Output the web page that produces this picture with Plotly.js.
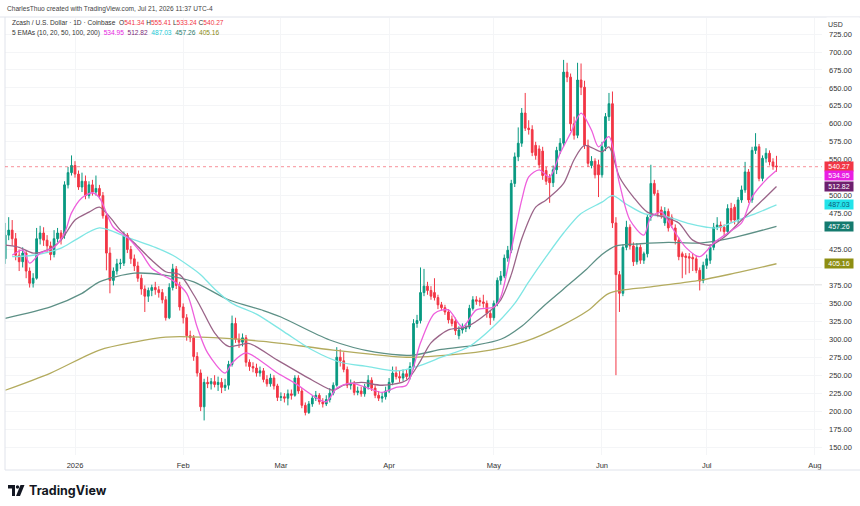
<!DOCTYPE html>
<html><head><meta charset="utf-8">
<script src="https://cdn.plot.ly/plotly-3.0.1.min.js"></script>
<style>html,body{margin:0;padding:0;background:#fff;}#chart{width:860px;height:506px;}</style>
</head><body><div id="chart"></div>
<script>
// ---------------- DATA ----------------
const firstDay = '2025-12-12';
const opens = [412,445,452,440,417,408,420,395,378,385,440,448,438,430,418,440,448,445,515,532,
542,530,512,520,500,515,505,510,500,472,420,382,395,405,406,445,425,412,402,385,
370,360,368,372,369,365,355,330,372,398,375,345,330,305,302,276,253,206,240,238,
241,237,240,233,236,265,322,300,296,302,268,262,260,253,256,244,238,246,235,219,
220,218,224,222,246,228,208,198,210,218,222,213,210,216,225,236,275,270,258,236,
238,226,228,224,234,243,232,222,218,220,228,240,253,248,246,252,248,262,322,326,
365,374,368,365,358,348,344,338,328,325,305,313,315,317,343,355,354,352,350,336,
330,350,382,388,413,424,517,554,573,615,594,592,570,565,562,535,525,518,536,563,
573,672,665,600,584,661,651,570,542,548,543,529,568,610,628,462,390,364,428,456,
430,408,428,410,419,470,517,503,480,462,478,470,455,438,419,416,415,414,412,396,
382,403,410,428,456,459,456,450,482,484,466,494,508,533,494,563,568,524,552,559,
547,541.34];
const highs = [462,470,466,448,425,428,424,400,392,455,458,456,445,436,452,455,452,520,540,556,
548,535,532,528,520,522,528,515,505,476,428,400,412,412,450,448,430,418,408,390,
375,372,376,380,374,370,360,378,405,402,380,350,335,312,306,282,258,245,248,246,
250,248,246,245,270,333,330,308,308,306,272,268,266,262,260,250,252,250,238,226,
225,230,230,250,250,232,212,214,222,228,225,218,222,232,240,289,286,282,262,244,
242,234,234,238,250,247,236,228,226,234,246,262,262,256,258,258,268,328,334,400,
398,380,374,385,362,352,348,342,333,330,318,322,322,348,360,360,358,362,354,340,
354,386,395,418,430,522,560,595,622,643,605,598,575,570,568,540,530,542,568,580,
689,685,670,610,685,684,660,578,555,552,550,575,615,643,645,470,395,432,465,460,
435,434,432,422,474,543,522,508,485,484,482,474,460,442,422,420,420,420,416,400,
408,418,432,462,470,464,460,488,490,488,498,514,547,537,568,587,572,556,566,563,
552,555.41];
const lows = [405,438,430,410,395,400,385,372,372,383,432,430,420,410,414,435,432,440,510,528,
525,508,505,495,496,500,500,495,468,396,364,375,390,398,402,420,405,395,380,362,
338,352,360,362,358,350,326,328,368,370,340,322,298,296,270,248,200,187,232,230,
233,228,225,228,230,262,295,288,290,262,256,254,248,248,240,234,234,230,214,214,
212,208,216,220,224,204,194,196,206,214,209,205,207,212,222,234,262,254,232,230,
222,222,220,220,230,228,218,214,212,216,225,236,244,240,242,244,244,258,316,322,
360,362,355,354,342,340,334,322,318,306,300,308,310,314,340,348,346,344,330,320,
326,346,376,385,408,420,512,548,568,590,585,555,550,538,522,515,490,512,530,558,
568,658,590,578,580,640,565,540,538,524,498,525,562,604,455,250,338,360,424,425,
402,404,405,405,414,465,500,470,468,458,450,455,432,410,385,390,392,395,392,368,
378,398,405,424,452,450,444,446,462,460,462,490,504,490,490,558,520,520,546,542,
536,533.24];
const closes = [445,452,440,417,408,420,395,378,385,440,448,438,430,418,440,448,440,515,532,542,
530,512,520,500,515,505,510,500,472,420,382,395,405,406,445,425,412,402,385,370,
360,368,372,369,365,355,330,372,398,375,345,330,305,302,276,253,206,240,238,241,
237,240,233,236,265,322,300,296,302,268,262,260,253,256,244,238,246,235,219,220,
218,224,222,246,228,208,198,210,218,222,213,210,216,225,236,275,270,258,236,238,
226,228,224,234,243,232,222,218,220,228,240,253,248,246,252,248,262,322,326,365,
374,368,360,358,348,344,338,327,322,312,313,317,317,343,355,353,352,350,336,330,
350,382,388,413,424,517,554,573,615,594,592,560,556,543,528,520,518,536,563,573,
672,665,600,584,661,651,570,545,548,529,529,568,610,628,462,390,364,428,456,430,
408,428,410,419,470,517,503,476,471,478,455,460,438,415,415,414,413,412,396,381,
403,412,428,456,459,456,450,482,466,466,494,508,533,494,563,568,524,552,559,547,
541,540.27];

const ema10Dates = ['2025-12-14','2025-12-17','2025-12-19','2025-12-22','2025-12-26','2025-12-29','2025-12-31','2026-01-03','2026-01-06','2026-01-08','2026-01-12','2026-01-16','2026-01-20','2026-01-23','2026-01-27','2026-01-29','2026-02-02','2026-02-05','2026-02-08','2026-02-13','2026-02-15','2026-02-19','2026-02-22','2026-02-28','2026-03-05','2026-03-10','2026-03-14','2026-03-17','2026-03-21','2026-03-26','2026-03-30','2026-04-03','2026-04-06','2026-04-10','2026-04-14','2026-04-18','2026-04-22','2026-04-26','2026-05-01','2026-05-03','2026-05-06','2026-05-09','2026-05-11','2026-05-14','2026-05-17','2026-05-20','2026-05-23','2026-05-26','2026-05-29','2026-05-31','2026-06-03','2026-06-06','2026-06-09','2026-06-13','2026-06-15','2026-06-18','2026-06-21','2026-06-25','2026-06-29','2026-07-03','2026-07-07','2026-07-11','2026-07-14','2026-07-18','2026-07-21'];
const ema10Values = [417,424,406,420,428,448,476,497,504,497,456,442,420,399,387,382,364,317,281,253,267,281,274,253,239,222,213,232,239,232,226,233,236,295,336,341,317,341,345,359,424,494,526,536,526,559,587,615,591,568,582,517,466,445,470,477,456,428,415,434,448,462,498,522,534.95];

const ema20Dates = ['2025-12-12','2025-12-16','2025-12-20','2025-12-24','2025-12-28','2026-01-01','2026-01-05','2026-01-08','2026-01-11','2026-01-14','2026-01-18','2026-01-23','2026-01-27','2026-01-31','2026-02-04','2026-02-06','2026-02-10','2026-02-14','2026-02-17','2026-02-20','2026-02-28','2026-03-10','2026-03-16','2026-03-19','2026-03-24','2026-03-30','2026-04-06','2026-04-10','2026-04-13','2026-04-18','2026-04-23','2026-04-29','2026-05-03','2026-05-06','2026-05-09','2026-05-13','2026-05-16','2026-05-21','2026-05-24','2026-05-27','2026-06-01','2026-06-03','2026-06-06','2026-06-10','2026-06-14','2026-06-19','2026-06-23','2026-06-27','2026-07-02','2026-07-06','2026-07-11','2026-07-16','2026-07-21'];
const ema20Values = [431,428,420,424,438,466,477,484,470,452,434,410,394,390,362,345,309,290,292,294,271,243,229,236,240,236,243,270,295,313,317,336,355,390,440,484,494,517,550,570,561,568,526,498,477,470,462,438,431,442,466,489,512.82];

const ema50Dates = ['2025-12-14','2025-12-20','2025-12-28','2026-01-01','2026-01-08','2026-01-16','2026-01-24','2026-01-29','2026-02-03','2026-02-06','2026-02-10','2026-02-15','2026-02-22','2026-03-02','2026-03-10','2026-03-18','2026-03-26','2026-04-03','2026-04-09','2026-04-16','2026-04-24','2026-05-01','2026-05-07','2026-05-11','2026-05-16','2026-05-21','2026-05-26','2026-06-01','2026-06-04','2026-06-08','2026-06-13','2026-06-20','2026-06-26','2026-07-01','2026-07-04','2026-07-10','2026-07-15','2026-07-21'];
const ema50Values = [415,417,427,438,455,442,428,417,401,390,370,350,335,310,285,268,262,256,262,275,290,318,350,380,415,448,475,491,500,488,475,470,461,456,455,466,475,487.03];

const ema100Dates = ['2025-12-12','2025-12-25','2026-01-03','2026-01-08','2026-01-18','2026-01-27','2026-02-04','2026-02-14','2026-02-24','2026-03-01','2026-03-15','2026-03-28','2026-04-08','2026-04-16','2026-04-26','2026-05-03','2026-05-09','2026-05-15','2026-05-21','2026-05-27','2026-06-01','2026-06-05','2026-06-12','2026-06-20','2026-06-29','2026-07-09','2026-07-21'];
const ema100Values = [329,345,364,380,392,389,380,355,340,331,299,282,278,286,292,300,318,345,370,395,418,430,433,435,434,442,457.26];

const ema200Dates = ['2025-12-12','2025-12-25','2026-01-08','2026-01-18','2026-01-27','2026-02-06','2026-02-24','2026-03-16','2026-04-06','2026-04-20','2026-04-30','2026-05-10','2026-05-20','2026-05-28','2026-06-03','2026-06-15','2026-06-29','2026-07-09','2026-07-21'];
const ema200Values = [229,253,285,296,303,303,297,285,275,279,285,297,318,340,364,373,382,392,405.16];

const monthTicks = ['2026-01-01','2026-02-01','2026-03-01','2026-04-01','2026-05-01','2026-06-01','2026-07-01','2026-08-01'];
const monthLabels = ['2026','Feb','Mar','Apr','May','Jun','Jul','Aug'];
const priceTicks = [150,175,200,225,250,275,300,325,350,375,400,425,450,475,500,525,550,575,600,625,650,675,700,725];
// labels hidden behind the value boxes in the reference
const hiddenTicks = [400,450,525];
const priceTickLabels = priceTicks.map(v => hiddenTicks.includes(v) ? '' : v.toFixed(2));

const lastValues = {close: 540.27, ema10: 534.95, ema20: 512.82, ema50: 487.03, ema100: 457.26, ema200: 405.16};
const ohlcLast = {o: '541.34', h: '555.41', l: '533.24', c: '540.27'};
const supportLevel = 376;

// ---------------- BUILD ----------------
const dates = opens.map((_, k) => {
  const d = new Date(Date.UTC(2025, 11, 12 + k));
  return d.toISOString().slice(0, 10);
});

const W = 860, H = 506;
const M = {l: 5, r: 38, t: 18, b: 51};
const PW = W - M.l - M.r, PH = H - M.t - M.b;
const px = x => (x - M.l) / PW;
const py = y => (H - M.b - y) / PH;

const C = {
  up: '#089981', down: '#f23645',
  e10: '#ee5fdc', e20: '#9a6488', e50: '#7fe6e4', e100: '#5d9086', e200: '#b3ab5e'
};

const traces = [
  {type: 'scatter', mode: 'lines', x: ema200Dates, y: ema200Values, line: {color: C.e200, width: 1.3, shape: 'spline', smoothing: 0.8}, hoverinfo: 'skip'},
  {type: 'scatter', mode: 'lines', x: ema100Dates, y: ema100Values, line: {color: C.e100, width: 1.3, shape: 'spline', smoothing: 0.8}, hoverinfo: 'skip'},
  {type: 'scatter', mode: 'lines', x: ema50Dates, y: ema50Values, line: {color: C.e50, width: 1.3, shape: 'spline', smoothing: 0.8}, hoverinfo: 'skip'},
  {type: 'scatter', mode: 'lines', x: ema20Dates, y: ema20Values, line: {color: C.e20, width: 1.3, shape: 'spline', smoothing: 0.8}, hoverinfo: 'skip'},
  {type: 'scatter', mode: 'lines', x: ema10Dates, y: ema10Values, line: {color: C.e10, width: 1.3, shape: 'spline', smoothing: 0.8}, hoverinfo: 'skip'},
  {type: 'candlestick', x: dates, open: opens, high: highs, low: lows, close: closes,
   increasing: {line: {color: C.up, width: 1}, fillcolor: C.up},
   decreasing: {line: {color: C.down, width: 1}, fillcolor: C.down},
   whiskerwidth: 0, hoverinfo: 'skip'}
];

const FONT = 'Liberation Sans, Arial, sans-serif';
const ann = [];
ann.push({xref: 'paper', yref: 'paper', x: px(5), y: py(9), xanchor: 'left', yanchor: 'middle', showarrow: false,
  text: 'CharlesThuo created with TradingView.com, Jul 21, 2026 11:37 UTC-4', font: {family: FONT, size: 6.6, color: '#444'}});
const red = s => `<span style="color:#f23645">${s}</span>`;
ann.push({xref: 'paper', yref: 'paper', x: px(10), y: py(23), xanchor: 'left', yanchor: 'middle', showarrow: false,
  text: 'Zcash / U.S. Dollar · 1D · Coinbase  O' + red(ohlcLast.o) + ' H' + red(ohlcLast.h) + ' L' + red(ohlcLast.l) + ' C' + red(ohlcLast.c),
  font: {family: FONT, size: 6.6, color: '#333'}});
const sp = (c, v) => `<span style="color:${c}">${v.toFixed(2)}</span>`;
ann.push({xref: 'paper', yref: 'paper', x: px(10), y: py(33), xanchor: 'left', yanchor: 'middle', showarrow: false,
  text: '5 EMAs (10, 20, 50, 100, 200)  ' + sp('#e61ee0', lastValues.ema10) + '  ' + sp('#7b2a78', lastValues.ema20) + '  ' +
        sp('#16c9d6', lastValues.ema50) + '  ' + sp('#1f7a6c', lastValues.ema100) + '  ' + sp('#8a8a10', lastValues.ema200),
  font: {family: FONT, size: 6.6, color: '#333'}});

// USD label
ann.push({xref: 'paper', yref: 'paper', x: px(826), y: py(25), xanchor: 'left', yanchor: 'middle', showarrow: false,
  text: 'USD', font: {family: FONT, size: 7, color: '#333'}, bgcolor: '#ffffff', width: 30, height: 11, align: 'left'});

// price boxes on the axis
const box = (val, bg, fg, shift) => ({xref: 'paper', yref: 'y', x: 1, y: val, xanchor: 'left', yanchor: 'middle', xshift: 2, yshift: shift,
  showarrow: false, text: val.toFixed(2), bgcolor: bg, font: {family: FONT, size: 7, color: fg}, width: 27, height: 8, borderpad: 0.5});
ann.push(box(lastValues.close, '#f23645', '#ffffff', 0));
ann.push(box(lastValues.ema10, '#e91ee3', '#ffffff', -5));
ann.push(box(lastValues.ema20, '#6e1f6e', '#ffffff', 0));
ann.push(box(lastValues.ema50, '#22e3ea', '#0b5c7a', 0));
ann.push(box(lastValues.ema100, '#157a6e', '#ffffff', 0));
ann.push(box(lastValues.ema200, '#8e8e12', '#ffffff', 0));

// TradingView wordmark
ann.push({xref: 'paper', yref: 'paper', x: px(27), y: py(490), xanchor: 'left', yanchor: 'middle', showarrow: false,
  text: '<b>TradingView</b>', font: {family: 'Inter, Liberation Sans, sans-serif', size: 12.5, color: '#131722'}});

const P = (x, y) => `${px(x)},${py(y)}`;
const shapes = [
  {type: 'line', xref: 'paper', yref: 'paper', x0: px(0), x1: px(860), y0: py(17), y1: py(17), line: {color: '#e0e3eb', width: 1}},
  {type: 'line', xref: 'paper', yref: 'paper', x0: px(5), x1: px(5), y0: py(17), y1: py(470), line: {color: '#e0e3eb', width: 1}},
  {type: 'line', xref: 'paper', yref: 'paper', x0: px(5), x1: px(860), y0: py(470), y1: py(470), line: {color: '#e0e3eb', width: 1}},
  {type: 'line', xref: 'paper', yref: 'y', x0: 0, x1: 1, y0: supportLevel, y1: supportLevel, line: {color: '#e6e6e6', width: 1}, layer: 'below'},
  {type: 'line', xref: 'paper', yref: 'y', x0: 0, x1: 1, y0: lastValues.close, y1: lastValues.close, line: {color: 'rgba(242,54,69,0.55)', width: 1, dash: 'dot'}},
  {type: 'path', xref: 'paper', yref: 'paper', path: `M${P(8,485)} L${P(15,485)} L${P(15,496)} L${P(12,496)} L${P(12,488.5)} L${P(8,488.5)} Z`, fillcolor: '#131722', line: {width: 0}},
  {type: 'circle', xref: 'paper', yref: 'paper', x0: px(15.8), x1: px(19.2), y0: py(488.7), y1: py(485.3), fillcolor: '#131722', line: {width: 0}},
  {type: 'path', xref: 'paper', yref: 'paper', path: `M${P(20.5,485)} L${P(24.5,485)} L${P(20,496)} L${P(16,496)} Z`, fillcolor: '#131722', line: {width: 0}}
];

const layout = {
  width: W, height: H,
  margin: M,
  paper_bgcolor: '#ffffff', plot_bgcolor: '#ffffff',
  showlegend: false,
  xaxis: {
    type: 'date', range: ['2025-12-11 22:34', '2026-08-03 01:00'],
    rangeslider: {visible: false},
    tickvals: monthTicks, ticktext: monthLabels,
    showgrid: true, gridcolor: '#f4f5f7', gridwidth: 1,
    zeroline: false, showline: false, ticks: '',
    tickfont: {family: FONT, size: 7.5, color: '#333'}, ticklabelstandoff: 4, fixedrange: true
  },
  yaxis: {
    side: 'right', range: [138.86, 747.34],
    tickvals: priceTicks, ticktext: priceTickLabels,
    showgrid: true, gridcolor: '#f4f5f7', gridwidth: 1,
    zeroline: false, showline: false, ticks: '',
    tickfont: {family: FONT, size: 7.5, color: '#333'}, ticklabelstandoff: 6, fixedrange: true
  },
  annotations: ann,
  shapes: shapes
};

Plotly.newPlot('chart', traces, layout, {staticPlot: true, displayModeBar: false});
</script></body></html>
